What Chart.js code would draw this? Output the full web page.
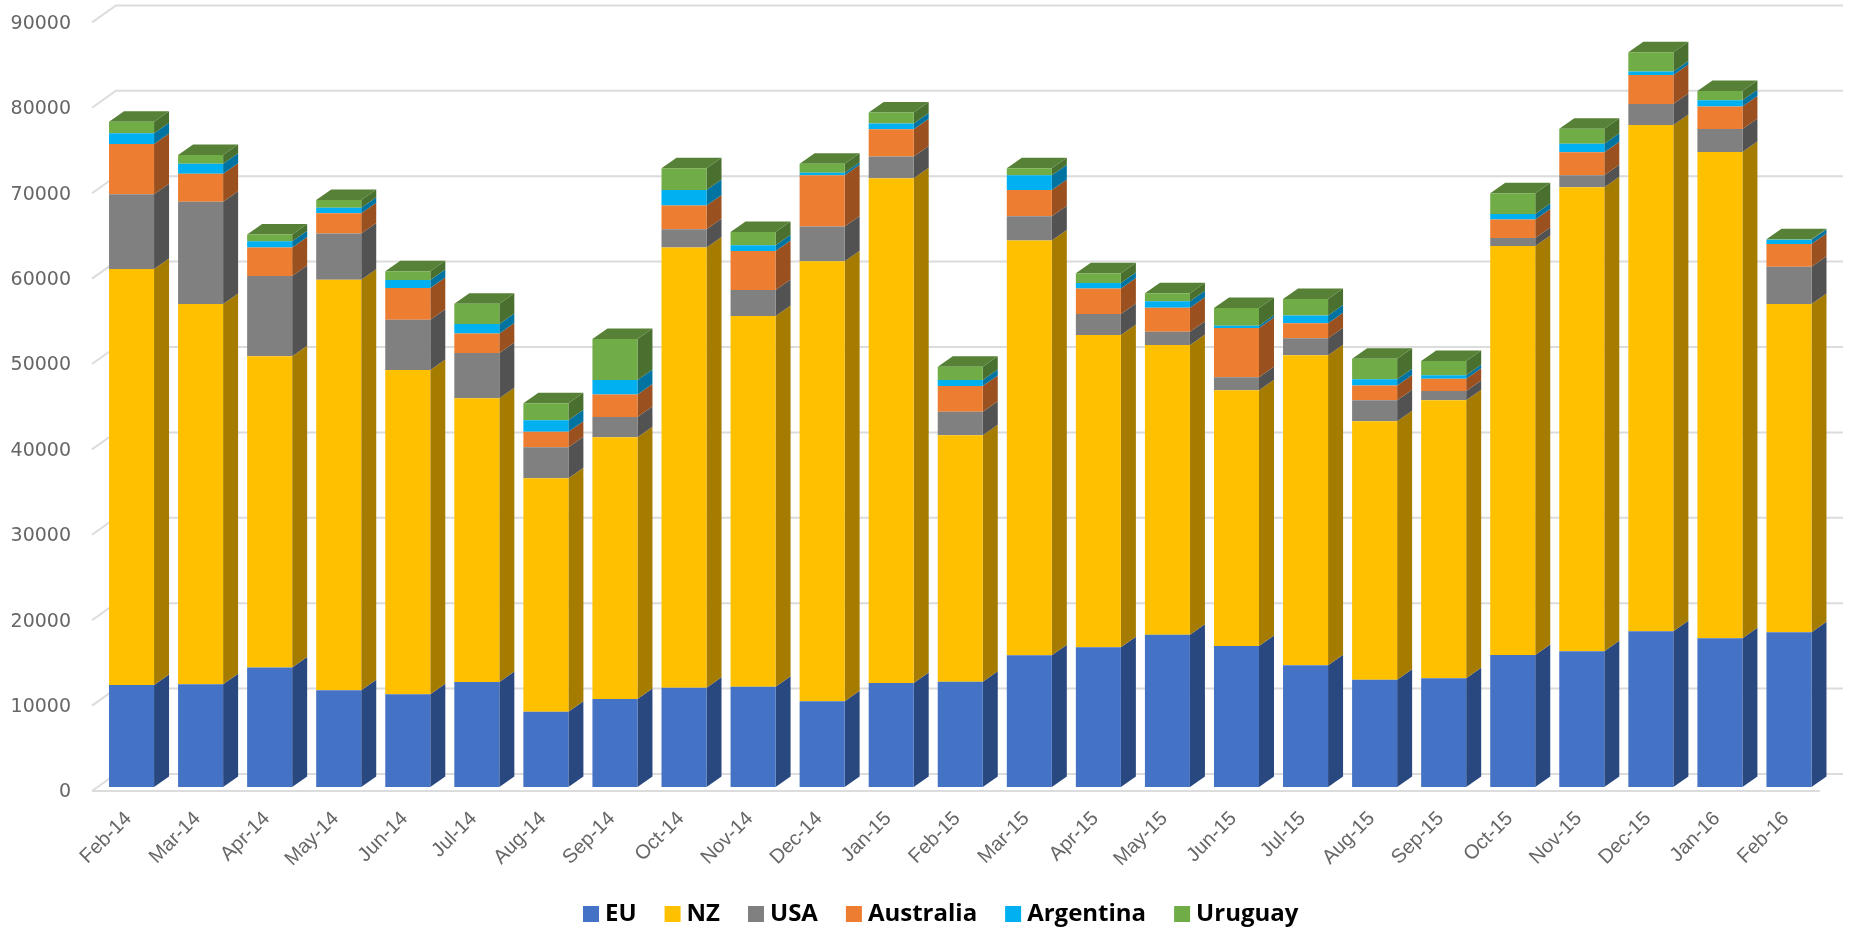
<!DOCTYPE html>
<html>
<head>
<meta charset="utf-8">
<title>Monthly volumes by origin</title>
<script src="https://cdn.jsdelivr.net/npm/chart.js@4"></script>
<style>
	html, body { margin: 0; padding: 0; background: #fff; }
	.wrap { width: 1852px; height: 927px; }
</style>
</head>
<body>
<div class="wrap"><canvas id="volumes"></canvas></div>
<script>
var months = ['Feb-14', 'Mar-14', 'Apr-14', 'May-14', 'Jun-14', 'Jul-14', 'Aug-14', 'Sep-14', 'Oct-14', 'Nov-14', 'Dec-14', 'Jan-15', 'Feb-15',
	'Mar-15', 'Apr-15', 'May-15', 'Jun-15', 'Jul-15', 'Aug-15', 'Sep-15', 'Oct-15', 'Nov-15', 'Dec-15', 'Jan-16', 'Feb-16'];

var eu = [11940, 12020, 13980, 11320, 10850, 12300, 8820, 10300, 11630, 11750, 10030, 12180, 12330,
	15420, 16360, 17840, 16510, 14250, 12570, 12720, 15460, 15890, 18230, 17410, 18110];
var nz = [48720, 44540, 36460, 48090, 37980, 33220, 27330, 30650, 51530, 43410, 51530, 59100, 28850,
	48560, 36580, 33920, 29940, 36300, 30250, 32560, 47900, 54340, 59290, 56950, 38450];
var usa = [8740, 11980, 9410, 5390, 5890, 5310, 3630, 2380, 2150, 3040, 4060, 2540, 2770,
	2850, 2460, 1560, 1520, 1990, 2460, 1090, 940, 1410, 2460, 2690, 4370];
var australia = [5890, 3280, 3320, 2380, 3710, 2260, 1830, 2620, 2770, 4570, 6010, 3200, 3010,
	3080, 2970, 2810, 5780, 1760, 1720, 1440, 2150, 2690, 3400, 2620, 2650];
var argentina = [1250, 1170, 740, 660, 940, 1130, 1330, 1720, 1830, 660, 310, 660, 700,
	1720, 660, 740, 270, 900, 740, 390, 660, 980, 390, 740, 510];
var uruguay = [1370, 1020, 780, 900, 1020, 2380, 1990, 4800, 2540, 1560, 1050, 1290, 1560,
	820, 1130, 940, 2070, 1950, 2420, 1680, 2420, 1760, 2260, 1090, 50];

// front, side and top colours per series
var seriesNames = ['EU', 'NZ', 'USA', 'Australia', 'Argentina', 'Uruguay'];
var seriesValues = [eu, nz, usa, australia, argentina, uruguay];
var frontColors = ['#4472c4', '#ffc000', '#808080', '#ed7d31', '#00b0f0', '#70ad47'];
var sideColors = ['#2a4880', '#a67c00', '#525252', '#9a511f', '#0073a0', '#49702e'];
var topColor = '#568136';

var yMax = 90000;
var yStep = 10000;

// depth of a bar, and of the floor and walls behind the bars
var barDepth = { x: 15, y: 10.5 };
var wallDepth = { x: 24, y: 17 };
var floorDrop = 4;
var wallLeft = 92;
var floorRight = 1820;
var wallRight = 1843;

function drawFace(ctx, color, pts) {
	ctx.fillStyle = color;
	ctx.beginPath();
	ctx.moveTo(pts[0], pts[1]);
	for (var i = 2; i < pts.length; i += 2) {
		ctx.lineTo(pts[i], pts[i + 1]);
	}
	ctx.closePath();
	ctx.fill();
}

var wallsPlugin = {
	id: 'walls',
	beforeDatasetsDraw: function(chart) {
		var ctx = chart.ctx;
		var y = chart.scales.y;
		ctx.save();
		ctx.strokeStyle = '#dcdcdc';
		ctx.lineWidth = 2;
		y.ticks.forEach(function(tick) {
			var py = y.getPixelForValue(tick.value) + floorDrop;
			ctx.beginPath();
			ctx.moveTo(wallLeft, py);
			ctx.lineTo(wallLeft + wallDepth.x, py - wallDepth.y);
			ctx.lineTo(wallRight, py - wallDepth.y);
			ctx.stroke();
			if (tick.value === 0) {
				ctx.beginPath();
				ctx.moveTo(wallLeft, py);
				ctx.lineTo(floorRight, py);
				ctx.stroke();
			}
		});
		ctx.restore();
	}
};

// side and top faces of the stacks, taken from the bars the library laid out
var depthPlugin = {
	id: 'depth',
	beforeDatasetsDraw: function(chart) {
		var ctx = chart.ctx;
		var last = seriesNames.length - 1;
		ctx.save();
		seriesNames.forEach(function(name, s) {
			chart.getDatasetMeta(s).data.forEach(function(bar) {
				var right = bar.x + bar.width / 2;
				var left = bar.x - bar.width / 2;
				drawFace(ctx, sideColors[s], [
					right, bar.y,
					right + barDepth.x, bar.y - barDepth.y,
					right + barDepth.x, bar.base - barDepth.y,
					right, bar.base
				]);
				if (s === last) {
					drawFace(ctx, topColor, [
						left, bar.y,
						left + barDepth.x, bar.y - barDepth.y,
						right + barDepth.x, bar.y - barDepth.y,
						right, bar.y
					]);
				}
			});
		});
		ctx.restore();
	}
};

var legendPlugin = {
	id: 'seriesKey',
	afterDraw: function(chart) {
		var ctx = chart.ctx;
		var x = 583;
		ctx.save();
		ctx.font = 'bold 24px "Open Sans"';
		ctx.textBaseline = 'middle';
		seriesNames.forEach(function(name, s) {
			ctx.fillStyle = frontColors[s];
			ctx.fillRect(x, 906, 16, 16);
			ctx.fillStyle = '#000';
			ctx.fillText(name, x + 22, 914);
			x += 22 + ctx.measureText(name).width + 28;
		});
		ctx.restore();
	}
};

var datasets = seriesNames.map(function(name, s) {
	return {
		label: name,
		data: seriesValues[s],
		backgroundColor: frontColors[s],
		borderWidth: 0,
		barPercentage: 0.652,
		categoryPercentage: 1
	};
});

new Chart(document.getElementById('volumes').getContext('2d'), {
	type: 'bar',
	data: { labels: months, datasets: datasets },
	plugins: [wallsPlugin, depthPlugin, legendPlugin],
	options: {
		responsive: true,
		maintainAspectRatio: false,
		animation: false,
		layout: { padding: { top: 18.4, right: 28.5, bottom: 0, left: 0 } },
		plugins: {
			legend: { display: false },
			tooltip: { enabled: false }
		},
		scales: {
			x: {
				stacked: true,
				afterFit: function(scale) {
					scale.height = 140;
					scale.paddingLeft = 0;
					scale.paddingRight = 0;
				},
				grid: { display: false, drawTicks: false },
				border: { display: false },
				ticks: {
					autoSkip: false,
					minRotation: 45,
					maxRotation: 45,
					padding: 20,
					labelOffset: -3,
					color: '#666',
					font: { family: '"Liberation Sans"', size: 20 }
				}
			},
			y: {
				stacked: true,
				min: 0,
				max: yMax,
				afterFit: function(scale) {
					scale.width = 97;
					scale.paddingTop = 0;
					scale.paddingBottom = 0;
				},
				grid: { display: false, drawTicks: false },
				border: { display: false },
				ticks: {
					stepSize: yStep,
					labelOffset: floorDrop + 1.5,
					padding: 26,
					color: '#666',
					font: { family: '"DejaVu Sans"', size: 19 },
					callback: function(value) { return String(value); }
				}
			}
		}
	}
});
</script>
</body>
</html>
